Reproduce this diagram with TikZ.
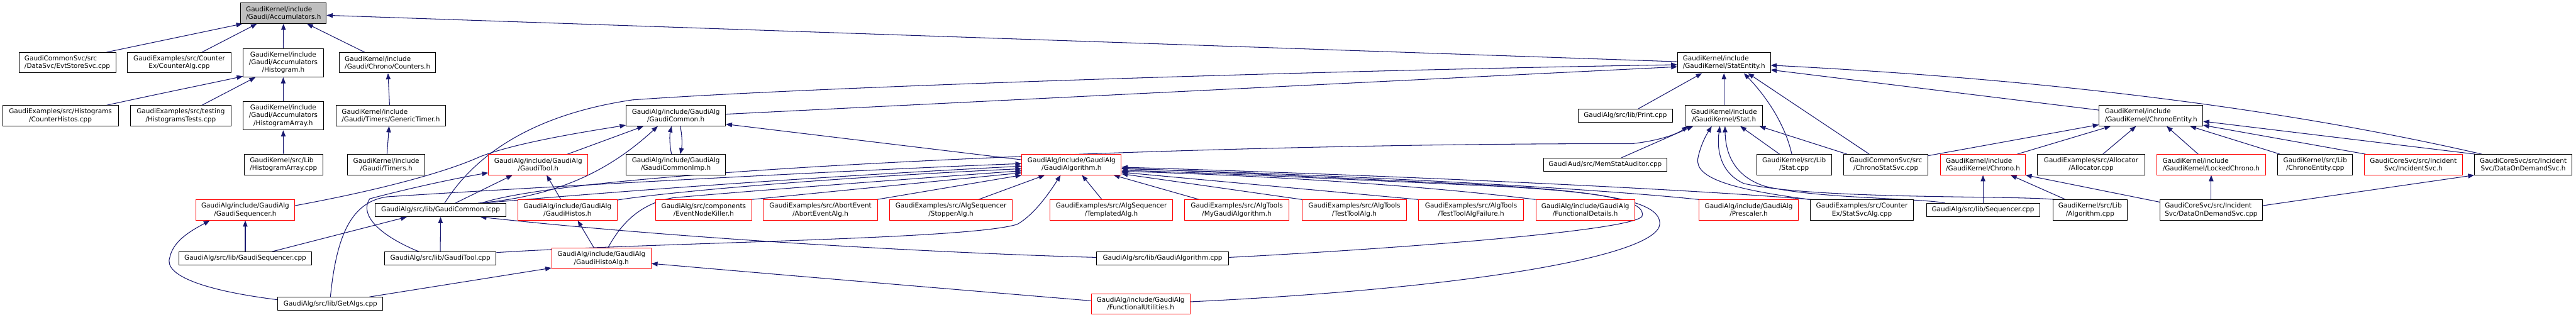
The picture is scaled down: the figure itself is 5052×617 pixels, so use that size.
\documentclass[tikz,border=0pt]{standalone}
\usepackage{fontspec}
\setmainfont{DejaVu Sans}
\usetikzlibrary{arrows.meta}
\pgfdeclarelayer{bg}
\pgfsetlayers{bg,main}
\definecolor{edgeblue}{HTML}{191970}
\definecolor{rootgray}{HTML}{BFBFBF}
\newcommand\gfont{\fontsize{12.9}{15}\selectfont}
\tikzset{
 box/.style={draw=black, line width=1.2pt, fill=white, inner sep=0pt, font=\gfont, align=center, minimum height=40pt},
 rbox/.style={box, draw=red},
 one/.style={minimum height=26pt},
 three/.style={minimum height=56pt},
 e/.style={draw=edgeblue, line width=1.3pt, -{Triangle[length=12pt,width=9pt]}},
}
\begin{document}
\begin{tikzpicture}[x=1pt,y=-1pt]
\useasboundingbox (0,0) rectangle (5052,617);
% row 0
\node[box,fill=rootgray,align=left,minimum width=168pt] (acc) at (556,26) {GaudiKernel/include\\/Gaudi/Accumulators.h};
% row 1
\node[box,align=left,minimum width=190pt] (evt) at (132,123) {GaudiCommonSvc/src\\/DataSvc/EvtStoreSvc.cpp};
\node[box,minimum width=203pt] (cntalg) at (351.5,123) {GaudiExamples/src/Counter\\Ex/CounterAlg.cpp};
\node[box,three,minimum width=157pt] (histo) at (555.5,123) {GaudiKernel/include\\/Gaudi/Accumulators\\/Histogram.h};
\node[box,align=left,minimum width=188pt] (counters) at (760,123) {GaudiKernel/include\\/Gaudi/Chrono/Counters.h};
\node[box,align=left,minimum width=182pt] (statent) at (3381,123) {GaudiKernel/include\\/GaudiKernel/StatEntity.h};
% row 2
\node[box,minimum width=227pt] (cnthist) at (118.5,227) {GaudiExamples/src/Histograms\\/CounterHistos.cpp};
\node[box,minimum width=197pt] (histtest) at (354.5,227) {GaudiExamples/src/testing\\/HistogramsTests.cpp};
\node[box,three,minimum width=157pt] (harr) at (555.5,227) {GaudiKernel/include\\/Gaudi/Accumulators\\/HistogramArray.h};
\node[box,align=left,minimum width=215pt] (gentimer) at (766.5,227) {GaudiKernel/include\\/Gaudi/Timers/GenericTimer.h};
\node[box,minimum width=195pt] (gcommon) at (1325.5,227) {GaudiAlg/include/GaudiAlg\\/GaudiCommon.h};
\node[box,one,minimum width=185pt] (print) at (3187.5,227) {GaudiAlg/src/lib/Print.cpp};
\node[box,minimum width=152pt] (stath) at (3381,227) {GaudiKernel/include\\/GaudiKernel/Stat.h};
\node[box,align=left,minimum width=203pt] (chronoent) at (4218.5,227) {GaudiKernel/include\\/GaudiKernel/ChronoEntity.h};
% row 3
\node[box,align=left,minimum width=154pt] (harrcpp) at (556,323) {GaudiKernel/src/Lib\\/HistogramArray.cpp};
\node[box,minimum width=151pt] (timers) at (757.5,323) {GaudiKernel/include\\/Gaudi/Timers.h};
\node[rbox,minimum width=195pt] (gtool) at (1055.5,323) {GaudiAlg/include/GaudiAlg\\/GaudiTool.h};
\node[box,minimum width=195pt] (gcimp) at (1325.5,323) {GaudiAlg/include/GaudiAlg\\/GaudiCommonImp.h};
\node[rbox,minimum width=195pt] (galg) at (2101.5,323) {GaudiAlg/include/GaudiAlg\\/GaudiAlgorithm.h};
\node[box,one,minimum width=242pt] (memstat) at (3148,323) {GaudiAud/src/MemStatAuditor.cpp};
\node[box,minimum width=147pt] (statcpp) at (3518.5,323) {GaudiKernel/src/Lib\\/Stat.cpp};
\node[box,minimum width=165pt] (chronosvc) at (3698.5,323) {GaudiCommonSvc/src\\/ChronoStatSvc.cpp};
\node[rbox,align=left,minimum width=166pt] (chrono) at (3889,323) {GaudiKernel/include\\/GaudiKernel/Chrono.h};
\node[box,minimum width=210pt] (alloc) at (4101,323) {GaudiExamples/src/Allocator\\/Allocator.cpp};
\node[rbox,align=left,minimum width=213pt] (locked) at (4336.5,323) {GaudiKernel/include\\/GaudiKernel/LockedChrono.h};
\node[box,minimum width=147pt] (chronoentcpp) at (4540.5,323) {GaudiKernel/src/Lib\\/ChronoEntity.cpp};
\node[rbox,minimum width=192pt] (incsvc) at (4733,323) {GaudiCoreSvc/src/Incident\\Svc/IncidentSvc.h};
\node[box,minimum width=191pt] (dodh) at (4948.5,323) {GaudiCoreSvc/src/Incident\\Svc/DataOnDemandSvc.h};
% row 4
\node[rbox,minimum width=194pt] (gseqh) at (481,412) {GaudiAlg/include/GaudiAlg\\/GaudiSequencer.h};
\node[box,one,minimum width=256pt] (icpp) at (864,412) {GaudiAlg/src/lib/GaudiCommon.icpp};
\node[rbox,minimum width=194pt] (ghistos) at (1113,412) {GaudiAlg/include/GaudiAlg\\/GaudiHistos.h};
\node[rbox,minimum width=188pt] (enk) at (1380,412) {GaudiAlg/src/components\\/EventNodeKiller.h};
\node[rbox,minimum width=224pt] (abort) at (1609,412) {GaudiExamples/src/AbortEvent\\/AbortEventAlg.h};
\node[rbox,minimum width=240pt] (stopper) at (1865,412) {GaudiExamples/src/AlgSequencer\\/StopperAlg.h};
\node[rbox,minimum width=241pt] (templ) at (2179.5,412) {GaudiExamples/src/AlgSequencer\\/TemplatedAlg.h};
\node[rbox,minimum width=205pt] (mygalg) at (2425.5,412) {GaudiExamples/src/AlgTools\\/MyGaudiAlgorithm.h};
\node[rbox,minimum width=204pt] (testtool) at (2656,412) {GaudiExamples/src/AlgTools\\/TestToolAlg.h};
\node[rbox,minimum width=206pt] (testfail) at (2885,412) {GaudiExamples/src/AlgTools\\/TestToolAlgFailure.h};
\node[rbox,minimum width=194pt] (fdetails) at (3109,412) {GaudiAlg/include/GaudiAlg\\/FunctionalDetails.h};
\node[rbox,minimum width=195pt] (prescaler) at (3429.5,412) {GaudiAlg/include/GaudiAlg\\/Prescaler.h};
\node[box,minimum width=203pt] (statsvcalg) at (3651.5,412) {GaudiExamples/src/Counter\\Ex/StatSvcAlg.cpp};
\node[box,one,minimum width=222pt] (seqcpp) at (3889,412) {GaudiAlg/src/lib/Sequencer.cpp};
\node[box,minimum width=146pt] (algcpp) at (4099,412) {GaudiKernel/src/Lib\\/Algorithm.cpp};
\node[box,align=left,minimum width=201pt] (dodcpp) at (4336.5,412) {GaudiCoreSvc/src/Incident\\Svc/DataOnDemandSvc.cpp};
% row 5
\node[box,one,minimum width=260pt] (gseqcpp) at (481,507) {GaudiAlg/src/lib/GaudiSequencer.cpp};
\node[box,one,minimum width=219pt] (gtoolcpp) at (863.5,507) {GaudiAlg/src/lib/GaudiTool.cpp};
\node[rbox,minimum width=195pt] (gha) at (1179.5,507) {GaudiAlg/include/GaudiAlg\\/GaudiHistoAlg.h};
\node[box,one,minimum width=258pt] (galgcpp) at (2280,507) {GaudiAlg/src/lib/GaudiAlgorithm.cpp};
% row 6
\node[box,one,minimum width=206pt] (getalgs) at (648,596) {GaudiAlg/src/lib/GetAlgs.cpp};
\node[rbox,minimum width=194pt] (futil) at (2237,596) {GaudiAlg/include/GaudiAlg\\/FunctionalUtilities.h};

\begin{pgfonlayer}{bg}
\fill[white] (0,0) rectangle (5052,617);
% to Accumulators.h
\draw[e] ([xshift=77pt]evt.north) -- ([xshift=4pt]acc.south west);
\draw[e] ([xshift=44.5pt]cntalg.north) -- ([xshift=-52pt]acc.south);
\draw[e] (histo.north) -- (acc.south);
\draw[e] ([xshift=-45pt]counters.north) -- ([xshift=46pt]acc.south);
\draw[e] ([yshift=2pt]statent.west) -- ([yshift=-4pt]acc.east);
% histogram chain
\draw[e] ([xshift=90.5pt]cnthist.north) .. controls (330,180) and (420,162) .. ([yshift=2pt]histo.south west);
\draw[e] ([xshift=41.5pt]histtest.north) -- ([xshift=-54.5pt]histo.south);
\draw[e] (harr.north) -- (histo.south);
\draw[e] (harrcpp.north) -- (harr.south);
\draw[e] ([xshift=-2.5pt]gentimer.north) -- ([xshift=1pt]counters.south);
\draw[e] ([xshift=1.5pt]timers.north) -- ([xshift=-3.5pt]gentimer.south);
% GaudiCommon.h
\draw[e] ([yshift=-11pt]galg.north west) -- ([yshift=4pt]gcommon.south east);
\draw[e] ([xshift=-8.5pt]gcimp.north) .. controls (1313,285) and (1313,265) .. ([xshift=-8.5pt]gcommon.south);
\draw[e] ([xshift=8.5pt]gcommon.south) .. controls (1338,265) and (1338,285) .. ([xshift=8.5pt]gcimp.north);
\draw[e] ([xshift=57.5pt]gtool.north) -- ([xshift=-63.5pt]gcommon.south);
\draw[e] ([yshift=-12pt]gseqh.north east) .. controls (760,370) and (880,335) .. (940,308) .. controls (1010,280) and (1150,258) .. ([yshift=2pt]gcommon.south west);
\draw[e] ([xshift=74pt]icpp.north) .. controls (1100,385) and (1200,330) .. ([xshift=-35.5pt]gcommon.south);
% StatEntity.h
\draw[e] ([xshift=8pt]icpp.north) .. controls (915,330) and (1010,230) .. (1240,196) .. controls (1600,170) and (2600,138) .. ([yshift=-4pt]statent.west);
\draw[e] ([yshift=3pt]gcommon.east) -- ([yshift=-8pt]statent.west);
\draw[e] ([xshift=25.5pt]print.north) -- ([xshift=-43pt]statent.south);
\draw[e] (stath.north) -- (statent.south);
\draw[e] ([xshift=-4.5pt]statcpp.north) .. controls (3500,240) and (3460,185) .. ([xshift=39pt]statent.south);
\draw[e] ([xshift=-32.5pt]chronosvc.north) -- ([xshift=47pt]statent.south);
\draw[e] ([yshift=11pt]chronoent.west) -- ([yshift=-14pt]statent.east);
\draw[e] ([xshift=15pt]dodh.north west) .. controls (4400,195) and (3900,150) .. ([yshift=-5pt]statent.east);
% Stat.h
\draw[e] ([xshift=32pt]memstat.north) -- ([xshift=16pt]stath.south west);
\draw[e] ([xshift=80pt]icpp.north) .. controls (1150,330) and (2400,280) .. (3200,282) .. controls (3260,275) and (3290,262) .. ([xshift=6pt]stath.south west);
\draw[e] (statsvcalg.north west) .. controls (3400,372) and (3322,350) .. (3330,310) .. controls (3335,285) and (3346,265) .. ([xshift=-24pt]stath.south);
\draw[e] ([xshift=-74pt]seqcpp.north) .. controls (3760,388) and (3560,390) .. (3460,365) .. controls (3400,345) and (3384,300) .. ([xshift=2pt]stath.south);
\draw[e] ([xshift=4pt]algcpp.north west) .. controls (3950,383) and (3560,392) .. (3420,360) .. controls (3375,340) and (3366,295) .. ([xshift=-8pt]stath.south);
\draw[e] ([xshift=-28.5pt]statcpp.north) -- ([xshift=32pt]stath.south);
\draw[e] ([xshift=7pt]chronosvc.north west) -- ([xshift=-7pt]stath.south east);
% ChronoEntity.h
\draw[e] ([xshift=67pt]chrono.north) -- ([xshift=23pt]chronoent.south west);
\draw[e] ([yshift=-3pt]chronosvc.north east) -- ([yshift=3pt]chronoent.south west);
\draw[e] ([xshift=23pt]alloc.north) -- ([xshift=-29.5pt]chronoent.south);
\draw[e] ([xshift=-25.5pt]locked.north) -- ([xshift=30.5pt]chronoent.south);
\draw[e] ([xshift=5pt]chronoentcpp.north west) -- ([xshift=76.5pt]chronoent.south);
\draw[e] ([xshift=3pt]incsvc.north west) -- ([yshift=2pt]chronoent.south east);
\draw[e] ([xshift=2pt]dodh.north west) -- ([yshift=-11pt]chronoent.east);
% Chrono.h, LockedChrono.h, DataOnDemandSvc.h
\draw[e] (seqcpp.north) -- (chrono.south);
\draw[e] ([xshift=-48pt]algcpp.north) -- ([xshift=54pt]chrono.south);
\draw[e] ([yshift=-5pt]dodcpp.north west) -- (chrono.south east);
\draw[e] (dodcpp.north) -- (locked.south);
\draw[e] ([yshift=-12pt]dodcpp.north east) -- (dodh.south west);
% GaudiAlgorithm.h from below
\draw[e] ([xshift=54pt]stopper.north) -- ([xshift=-52.5pt]galg.south);
\draw[e] ([xshift=-18.5pt]templ.north) -- ([xshift=20.5pt]galg.south);
\draw[e] ([xshift=-73.5pt]mygalg.north) -- ([xshift=82.5pt]galg.south);
\draw[e] ([yshift=-2pt]gtoolcpp.north east) .. controls (1300,475) and (1900,470) .. (1995,440) .. controls (2030,420) and (2060,375) .. ([xshift=-21.5pt]galg.south);
% GaudiAlgorithm.h from the right
\draw[e] ([yshift=2pt]galgcpp.east) .. controls (2700,490) and (3190,455) .. (3220,425) .. controls (3232,390) and (3120,374) .. (2900,362) .. controls (2600,348) and (2400,338) .. ([yshift=-7pt]galg.east);
\draw[e] ([yshift=4pt]futil.east) .. controls (2900,565) and (3250,500) .. (3255,440) .. controls (3258,395) and (3150,378) .. (2950,366) .. controls (2600,350) and (2400,340) .. ([yshift=-11pt]galg.east);
\draw[e] (testtool.north west) -- ([yshift=-18pt]galg.east);
\draw[e] (testfail.north west) -- ([yshift=-15pt]galg.east);
\draw[e] (fdetails.north west) .. controls (2800,365) and (2500,345) .. ([yshift=-13pt]galg.east);
\draw[e] (prescaler.north west) .. controls (3150,372) and (2700,345) .. ([yshift=-8pt]galg.east);
\draw[e] ([xshift=3pt]statsvcalg.north west) .. controls (3300,370) and (2700,343) .. ([yshift=-5pt]galg.east);
% GaudiAlgorithm.h from the left
\draw[e] ([xshift=-1pt]enk.north east) -- ([yshift=-16pt]galg.west);
\draw[e] ([xshift=-2pt]abort.north east) -- (galg.south west);
\draw[e] (getalgs.north) .. controls (660,460) and (690,395) .. (760,386) .. controls (1000,370) and (1700,332) .. ([yshift=2pt]galg.west);
\draw[e] ([xshift=84pt]icpp.north) .. controls (1100,385) and (1500,352) .. ([yshift=-3pt]galg.west);
\draw[e] ([yshift=-1pt]ghistos.north east) .. controls (1300,378) and (1600,350) .. ([yshift=-8pt]galg.west);
\draw[e] ([xshift=12.5pt]gha.north) .. controls (1215,445) and (1250,400) .. (1320,388) .. controls (1500,372) and (1800,350) .. ([yshift=-12pt]galg.west);
% remaining
\draw[e] ([xshift=-14.5pt]gha.north) -- ([xshift=20pt]ghistos.south);
\draw[e] ([xshift=-13pt]ghistos.north) -- ([xshift=16.5pt]gtool.south);
\draw[e] ([xshift=-42.5pt]gtoolcpp.north) .. controls (740,460) and (705,420) .. (725,390) .. controls (780,375) and (880,352) .. ([yshift=-16pt]gtool.west);
\draw[e] ([xshift=29pt]icpp.north) -- ([xshift=-50.5pt]gtool.south);
\draw[e] (gtoolcpp.north) -- (icpp.south);
\draw[e] ([xshift=53pt]gseqcpp.north) -- ([xshift=-66pt]icpp.south);
\draw[e] ([yshift=2pt]galgcpp.west) .. controls (1800,495) and (1300,465) .. ([xshift=78pt]icpp.south);
\draw[e] (gseqcpp.north) -- (gseqh.south);
\draw[e] ([yshift=8pt]getalgs.west) .. controls (400,570) and (320,540) .. (333,505) .. controls (340,470) and (380,450) .. ([xshift=28pt]gseqh.south west);
\draw[e] ([xshift=-27pt]getalgs.north east) -- ([yshift=2pt]gha.south west);
\draw[e] ([yshift=6pt]futil.west) .. controls (1900,570) and (1600,545) .. ([yshift=-10pt]gha.east);
\end{pgfonlayer}
\end{tikzpicture}
\end{document}
